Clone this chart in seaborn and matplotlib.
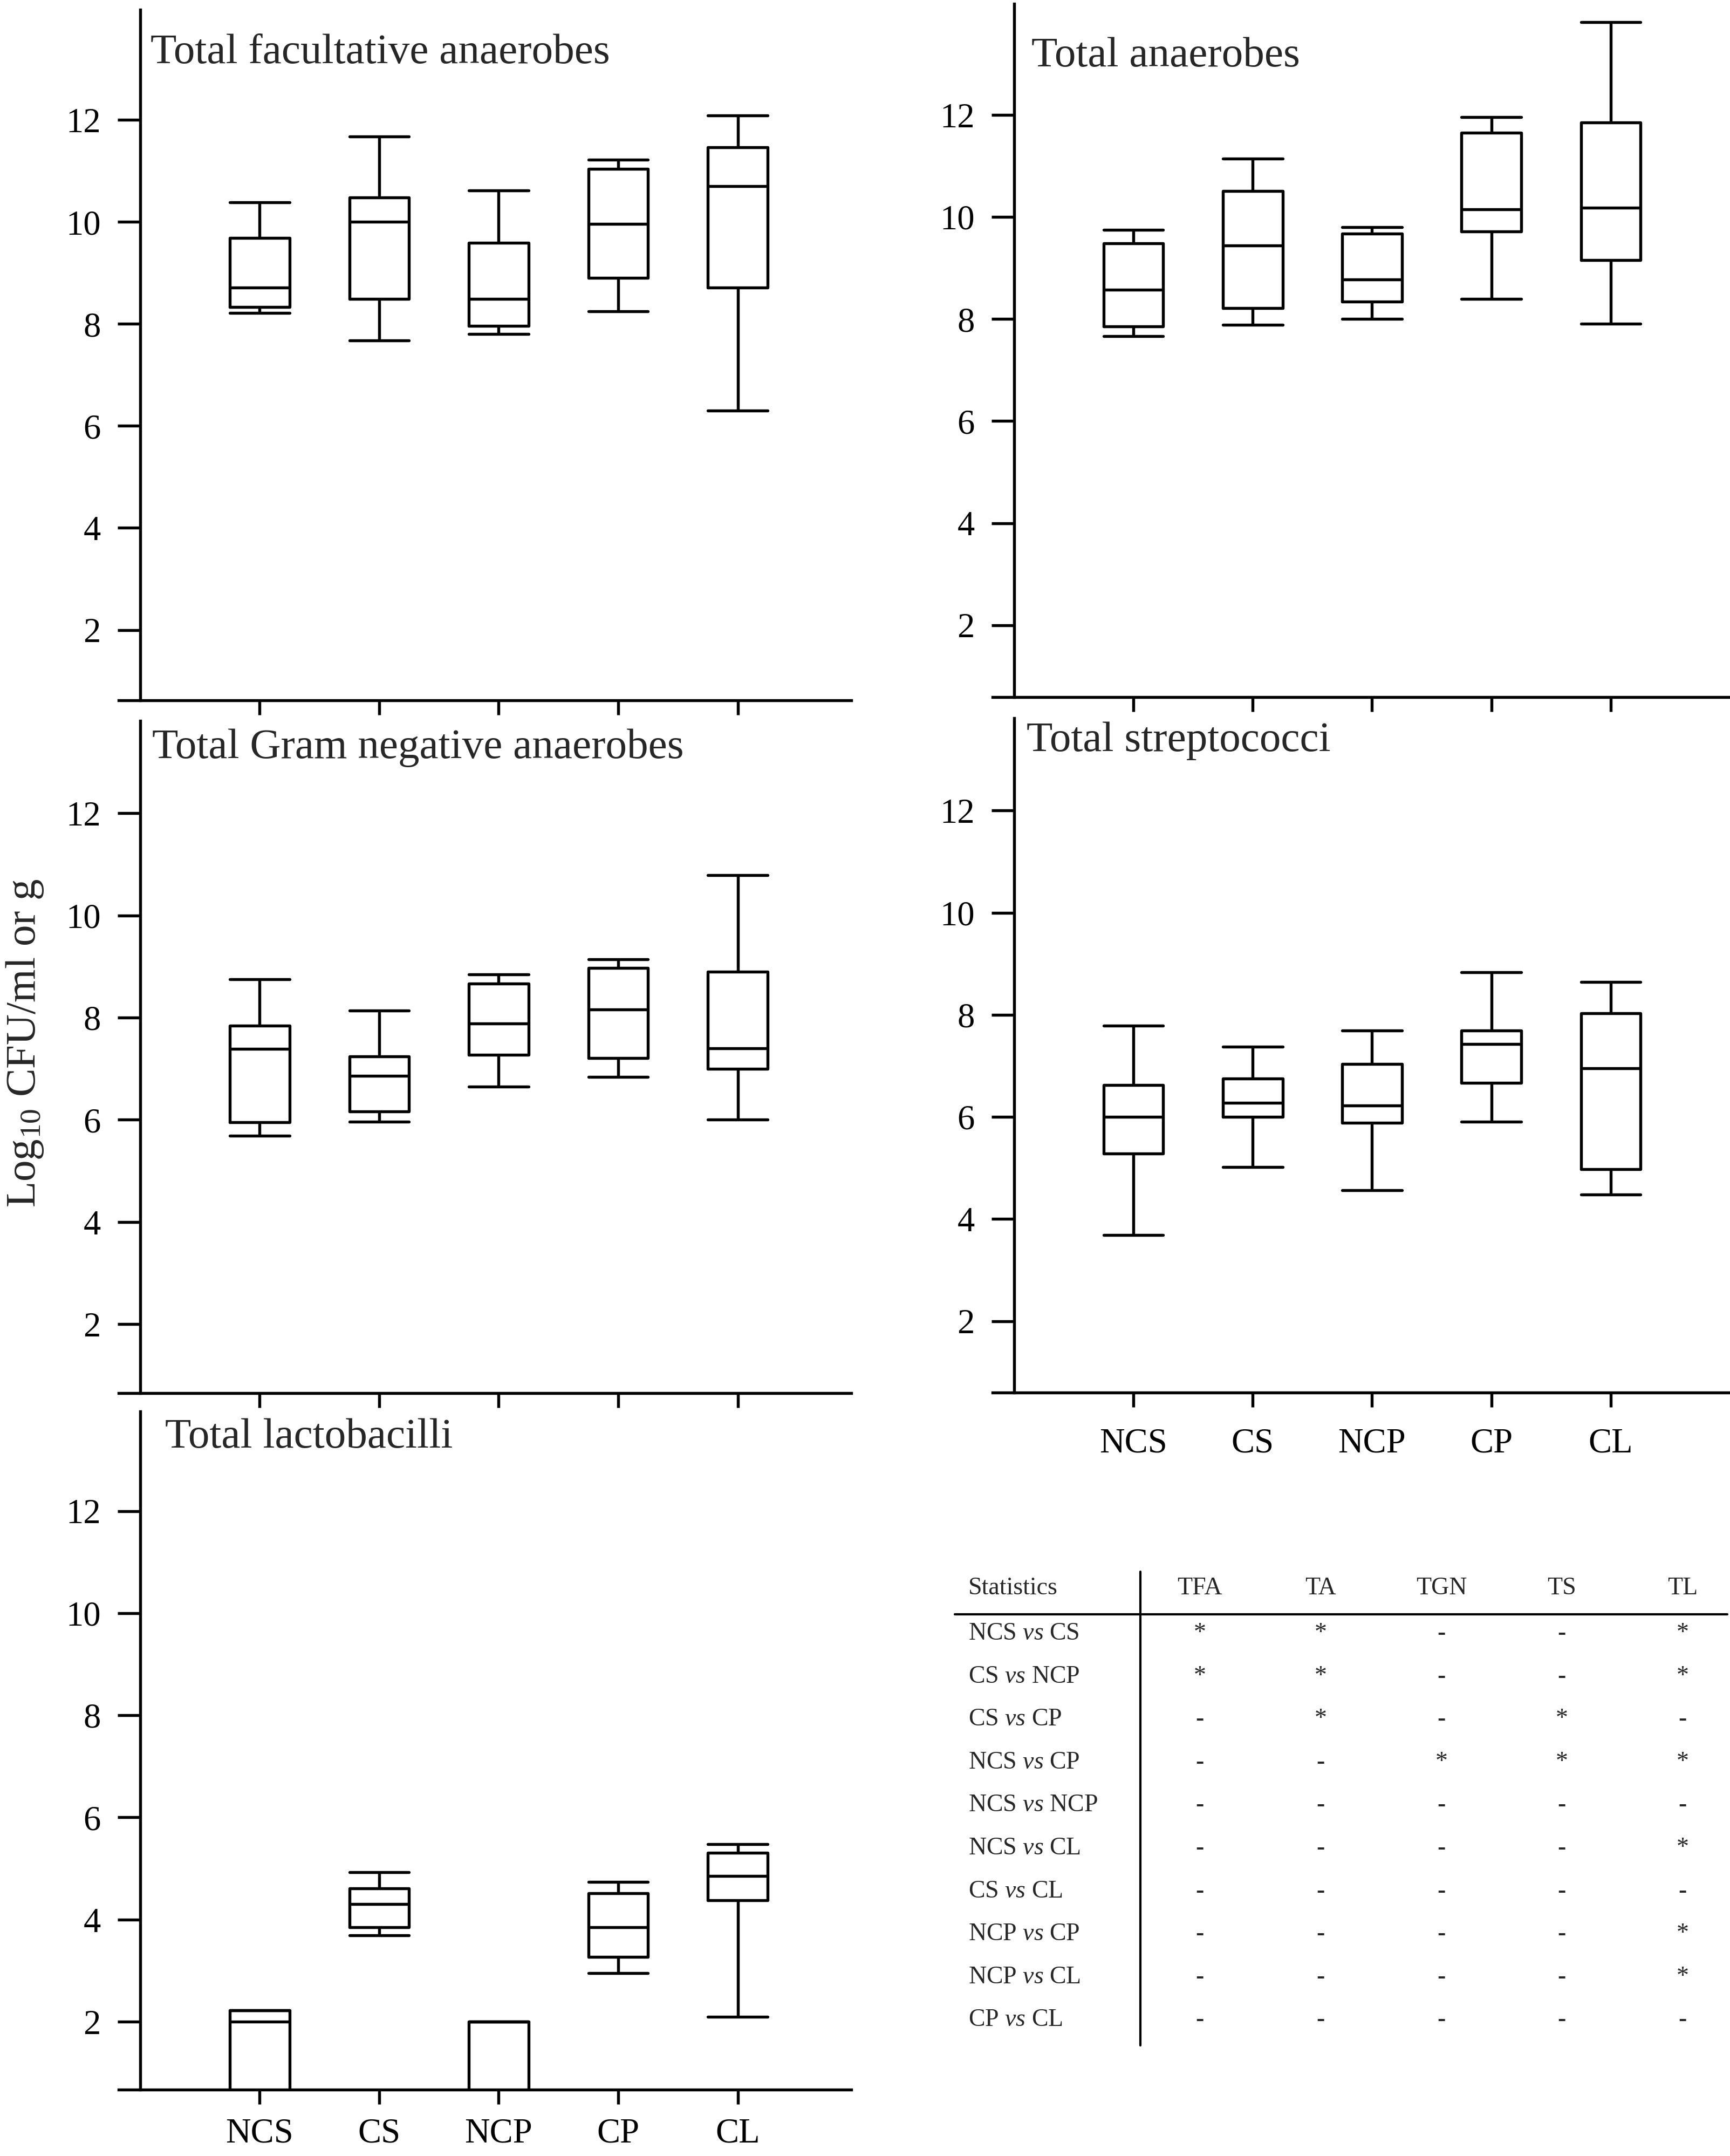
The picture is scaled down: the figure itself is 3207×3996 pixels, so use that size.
import numpy as np
import pandas as pd
import matplotlib
matplotlib.use('Agg')
import matplotlib.pyplot as plt
import seaborn as sns

groups = ['NCS', 'CS', 'NCP', 'CP', 'CL']

# five-number summaries: (min, Q1, median, Q3, max)
tfa = [(8.22, 8.33, 8.71, 9.69, 10.38),
       (7.68, 8.49, 10.00, 10.48, 11.67),
       (7.80, 7.96, 8.49, 9.59, 10.62),
       (8.25, 8.90, 9.96, 11.04, 11.22),
       (6.30, 8.71, 10.70, 11.46, 12.09)]
ta = [(7.66, 7.86, 8.58, 9.48, 9.75),
      (7.89, 8.21, 9.44, 10.51, 11.15),
      (8.00, 8.34, 8.78, 9.67, 9.80),
      (8.39, 9.72, 10.15, 11.65, 11.96),
      (7.91, 9.16, 10.18, 11.85, 13.82)]
tgn = [(5.69, 5.95, 7.39, 7.84, 8.75),
       (5.96, 6.16, 6.86, 7.24, 8.14),
       (6.65, 7.27, 7.89, 8.67, 8.85),
       (6.84, 7.21, 8.16, 8.97, 9.14),
       (6.00, 7.00, 7.40, 8.90, 10.79)]
ts = [(3.69, 5.28, 6.00, 6.62, 7.79),
      (5.02, 6.00, 6.27, 6.75, 7.37),
      (4.56, 5.88, 6.22, 7.04, 7.69),
      (5.90, 6.67, 7.43, 7.69, 8.83),
      (4.48, 4.97, 6.95, 8.03, 8.64)]
# NCS and NCP lactobacilli sit at/below the detection limit
tl = [(0.0, 0.0, 2.00, 2.22, 2.22),
      (3.69, 3.85, 4.30, 4.61, 4.93),
      (0.0, 0.0, 2.00, 2.00, 2.00),
      (2.95, 3.27, 3.85, 4.52, 4.74),
      (2.10, 4.38, 4.85, 5.31, 5.48)]

titles = ['Total facultative anaerobes', 'Total anaerobes',
          'Total Gram negative anaerobes', 'Total streptococci',
          'Total lactobacilli']

# statistics table
stat_cols = ['TFA', 'TA', 'TGN', 'TS', 'TL']
stat_rows = ['NCS $\\mathit{vs}$ CS', 'CS $\\mathit{vs}$ NCP', 'CS $\\mathit{vs}$ CP',
             'NCS $\\mathit{vs}$ CP', 'NCS $\\mathit{vs}$ NCP', 'NCS $\\mathit{vs}$ CL',
             'CS $\\mathit{vs}$ CL', 'NCP $\\mathit{vs}$ CP', 'NCP $\\mathit{vs}$ CL',
             'CP $\\mathit{vs}$ CL']
stat_marks = [['*', '*', '-', '-', '*'],
              ['*', '*', '-', '-', '*'],
              ['-', '*', '-', '*', '-'],
              ['-', '-', '*', '*', '*'],
              ['-', '-', '-', '-', '-'],
              ['-', '-', '-', '-', '*'],
              ['-', '-', '-', '-', '-'],
              ['-', '-', '-', '-', '*'],
              ['-', '-', '-', '-', '*'],
              ['-', '-', '-', '-', '-']]

sns.set_theme(style='ticks')
plt.rcParams['font.family'] = ['Liberation Serif', 'DejaVu Serif']
plt.rcParams['mathtext.fontset'] = 'custom'
plt.rcParams['mathtext.rm'] = 'Liberation Serif'
plt.rcParams['mathtext.it'] = 'Liberation Serif:italic'

W, H = 3207, 3996
fig = plt.figure(figsize=(W / 300, H / 300), dpi=300)

# overlay in pixel coordinates for titles, y label and the table
ov = fig.add_axes([0, 0, 1, 1])
ov.set_xlim(0, W)
ov.set_ylim(H, 0)
ov.axis('off')

# (left, top, right, bottom) in pixels, ylim, xlim, title position
layout = [
    ((220, 18, 1578, 1298), (0.62, 14.16), (-1.18, 4.95), (279, 117)),
    ((1840, 7, 3207, 1292), (0.59, 14.18), (-1.18, 5.0), (1912, 123)),
    ((220, 1336, 1578, 2582), (0.65, 13.81), (-1.18, 4.95), (282, 1405)),
    ((1840, 1331, 3207, 2581), (0.60, 13.81), (-1.18, 5.0), (1903, 1392)),
    ((220, 2616, 1578, 3873), (0.67, 13.95), (-1.18, 4.95), (306, 2683)),
]
panels = [tfa, ta, tgn, ts, tl]
lw = 1.3

for k, (summ, (box, ylim, xlim, tpos)) in enumerate(zip(panels, layout)):
    l, t, r, b = box
    ax = fig.add_axes([l / W, 1 - b / H, (r - l) / W, (b - t) / H])
    ax.patch.set_alpha(0)
    rows = [(g, v) for g, vals in zip(groups, summ) for v in vals]
    df = pd.DataFrame(rows, columns=['group', 'value'])
    sns.boxplot(data=df, x='group', y='value', order=groups, whis=(0, 100),
                width=0.5, fill=False, color='black', linecolor='black',
                linewidth=lw, capwidths=0.5, ax=ax)
    ax.set_xlim(*xlim)
    ax.set_ylim(*ylim)
    ax.set_yticks([2, 4, 6, 8, 10, 12])
    ax.set_xlabel('')
    ax.set_ylabel('')
    sns.despine(ax=ax)
    ax.spines['left'].set_position(('data', -1.0))
    for s in ['left', 'bottom']:
        ax.spines[s].set_linewidth(lw)
        ax.spines[s].set_color('black')
    ax.tick_params(axis='y', length=10, width=lw, pad=7.5, labelsize=15.5,
                   colors='black')
    xpad = 6 if k == 4 else 9
    ax.tick_params(axis='x', length=6.5, width=lw, pad=xpad, labelsize=15.5,
                   colors='black')
    if k < 3:
        ax.set_xticklabels([])
    ov.text(tpos[0], tpos[1], titles[k], fontsize=19, ha='left', va='baseline')

ov.text(46, 1933, 'Log$_{10}$ CFU/ml or g', fontsize=19, rotation=90,
        ha='center', va='center')

# statistics table
col_x = [2224, 2448, 2672, 2895, 3119]
row0, row_step = 3024, 79.6
ov.text(1795, 2955, 'Statistics', fontsize=11, ha='left', va='baseline')
for cx, name in zip(col_x, stat_cols):
    ov.text(cx, 2955, name, fontsize=11, ha='center', va='baseline')
ov.plot([1770, 3202], [2992, 2992], color='black', lw=1.0)
ov.plot([2114, 2114], [2913, 3791], color='black', lw=1.0)
for i, (label, marks) in enumerate(zip(stat_rows, stat_marks)):
    yb = row0 + i * row_step + 15
    ov.text(1795, yb, label, fontsize=11, ha='left', va='baseline')
    for cx, m in zip(col_x, marks):
        ov.text(cx, yb, m, fontsize=11, ha='center', va='baseline')

fig.savefig('out.png', dpi=300)
